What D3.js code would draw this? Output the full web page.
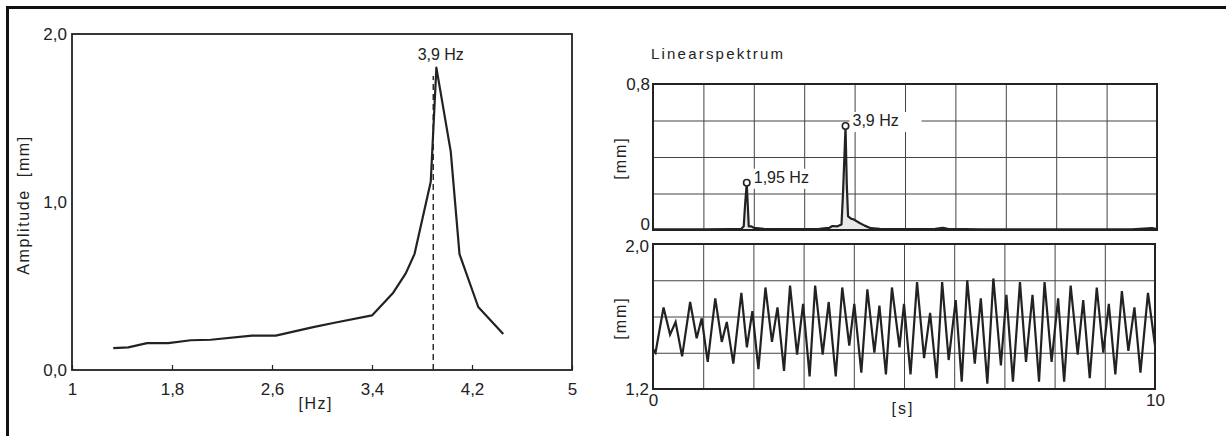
<!DOCTYPE html>
<html><head><meta charset="utf-8">
<script src="https://cdn.jsdelivr.net/npm/d3@7/dist/d3.min.js"></script>
<style>
html,body{margin:0;padding:0;background:#fff;}
svg{display:block;font-family:"Liberation Sans",Arial,Helvetica,sans-serif;}
text{fill:#222;}
</style></head>
<body><svg id="c" width="1226" height="436"></svg>
<script>
// ---- Left chart: resonance curve ----
const respHz  = [1.33,1.45,1.60,1.77,1.95,2.11,2.44,2.63,2.93,3.09,3.40,3.57,3.67,3.74,3.87,3.915,4.03,4.10,4.25,4.45];
const respAmp = [0.13,0.135,0.16,0.16,0.177,0.18,0.205,0.205,0.255,0.28,0.325,0.46,0.575,0.69,1.12,1.80,1.30,0.69,0.375,0.215];
const respPeakHz = 3.89, respPeakAmp = 1.75;
const respXTicks = [1,1.8,2.6,3.4,4.2,5];
const respYTicks = [0,1,2];

// ---- Right top: linear spectrum ----
const specHz = [0,0.5,1.0,1.5,1.75,1.80,1.83,1.86,1.88,1.90,1.95,2.0,2.2,2.6,3.0,3.3,3.5,3.56,3.66,3.74,3.77,3.82,3.845,3.87,3.93,3.98,4.1,4.2,4.32,4.5,5.0,5.6,5.75,5.85,6.5,7.5,8.5,9.5,9.9,10];
const specMm = [0.004,0.004,0.003,0.005,0.006,0.02,0.15,0.255,0.14,0.02,0.02,0.012,0.006,0.005,0.005,0.006,0.012,0.022,0.02,0.03,0.2,0.565,0.25,0.075,0.062,0.058,0.038,0.024,0.01,0.006,0.005,0.006,0.012,0.006,0.004,0.004,0.003,0.004,0.01,0.005];
const specPeaks = [{hz:1.86, mm:0.259, label:"1,95 Hz"},{hz:3.82, mm:0.570, label:"3,9 Hz"}];

// ---- Right bottom: time signal ----
const timeS = [0.0,0.05,0.21,0.34,0.45,0.58,0.74,0.87,0.97,1.09,1.24,1.37,1.47,1.60,1.76,1.87,1.98,2.10,2.24,2.37,2.48,2.61,2.73,2.87,2.99,3.12,3.23,3.38,3.50,3.64,3.77,3.91,4.01,4.15,4.27,4.41,4.51,4.64,4.76,4.91,5.00,5.13,5.26,5.40,5.52,5.65,5.76,5.89,6.03,6.15,6.26,6.41,6.53,6.66,6.78,6.93,7.04,7.17,7.31,7.43,7.56,7.69,7.80,7.94,8.07,8.19,8.32,8.46,8.57,8.70,8.84,8.97,9.08,9.21,9.34,9.47,9.59,9.71,9.86,10.0];
const dispMm = [1.42,1.40,1.65,1.50,1.57,1.38,1.68,1.48,1.59,1.35,1.70,1.46,1.57,1.34,1.73,1.43,1.63,1.31,1.76,1.46,1.65,1.30,1.77,1.39,1.67,1.27,1.77,1.39,1.68,1.27,1.76,1.44,1.67,1.29,1.75,1.40,1.66,1.28,1.76,1.43,1.67,1.28,1.79,1.37,1.62,1.26,1.79,1.36,1.69,1.24,1.80,1.34,1.70,1.23,1.81,1.33,1.72,1.24,1.79,1.35,1.72,1.24,1.79,1.35,1.70,1.24,1.77,1.39,1.69,1.26,1.76,1.40,1.67,1.28,1.74,1.41,1.65,1.29,1.73,1.44];

const loc = d3.formatLocale({decimal:",",thousands:".",grouping:[3],currency:["","€"]});
const f1 = loc.format(".1f");
const ink = "#222";

const svg = d3.select("#c");
svg.append("rect").attr("width",1226).attr("height",436).attr("fill","#fff");
// page frame (left and top edges)
svg.append("path").attr("d","M7.5,436V7.5H1226").attr("fill","none").attr("stroke","#111").attr("stroke-width",3);

// ================= LEFT CHART =================
const xL = d3.scaleLinear().domain([1,5]).range([72,572]);
const yL = d3.scaleLinear().domain([0,2]).range([370,34]);
const gL = svg.append("g");
gL.append("rect").attr("x",xL(1)).attr("y",yL(2)).attr("width",xL(5)-xL(1)).attr("height",yL(0)-yL(2))
  .attr("fill","none").attr("stroke",ink).attr("stroke-width",1.8);

const axL = gL.append("g").attr("transform",`translate(0,${yL(0)})`)
  .call(d3.axisBottom(xL).tickValues(respXTicks).tickSize(-5).tickPadding(13)
    .tickFormat(d => Number.isInteger(d) ? String(d) : f1(d)));
axL.select(".domain").remove();
axL.selectAll("line").attr("stroke",ink).attr("stroke-width",1.2);
axL.selectAll("text").attr("font-size",17).attr("fill",ink).attr("font-family",null);

const ayL = gL.append("g").attr("transform",`translate(${xL(1)},0)`)
  .call(d3.axisLeft(yL).tickValues(respYTicks).tickSize(0).tickPadding(5).tickFormat(f1));
ayL.select(".domain").remove();
ayL.selectAll("text").attr("font-size",17).attr("fill",ink).attr("font-family",null);

gL.append("line").attr("x1",xL(respPeakHz)).attr("x2",xL(respPeakHz)).attr("y1",yL(0)).attr("y2",yL(respPeakAmp))
  .attr("stroke",ink).attr("stroke-width",1.4).attr("stroke-dasharray","6,4");

gL.append("path").datum(respHz.map((h,i)=>[h,respAmp[i]]))
  .attr("d", d3.line().x(d=>xL(d[0])).y(d=>yL(d[1])))
  .attr("fill","none").attr("stroke",ink).attr("stroke-width",2.2).attr("stroke-linejoin","round");

gL.append("text").attr("x",xL(3.95)).attr("y",60).attr("text-anchor","middle").attr("font-size",16).text("3,9 Hz");
gL.append("text").attr("x",xL(2.95)).attr("y",409).attr("text-anchor","middle").attr("font-size",16)
  .attr("letter-spacing",1.5).text("[Hz]");
gL.append("text").attr("transform",`translate(29,205) rotate(-90)`).attr("text-anchor","middle").attr("font-size",16)
  .attr("letter-spacing",1.6).attr("xml:space","preserve").style("white-space","pre").text("Amplitude  [mm]");

// ================= RIGHT TOP: SPECTRUM =================
const xS = d3.scaleLinear().domain([0,10]).range([653,1157]);
const yS = d3.scaleLinear().domain([0,0.8]).range([230,84]);
const gS = svg.append("g");
const gridS = gS.append("g").attr("transform",`translate(0,${yS(0)})`)
  .call(d3.axisBottom(xS).ticks(10).tickSize(-(yS(0)-yS(0.8))).tickFormat(""));
gridS.select(".domain").remove();
gridS.selectAll("line").attr("stroke","#444").attr("stroke-width",1);
const gridSy = gS.append("g").attr("transform",`translate(${xS(0)},0)`)
  .call(d3.axisLeft(yS).tickValues([0.2,0.4,0.6]).tickSize(-(xS(10)-xS(0))).tickFormat(""));
gridSy.select(".domain").remove();
gridSy.selectAll("line").attr("stroke","#444").attr("stroke-width",1);

const specData = specHz.map((h,i)=>[h,specMm[i]]);
gS.append("path").datum(specData)
  .attr("d", d3.area().x(d=>xS(d[0])).y0(yS(0)).y1(d=>yS(d[1])))
  .attr("fill","#e8e8e8");

specPeaks.forEach((p,i)=>{
  const tx = xS(p.hz) + 7, ty = yS(p.mm);
  const w = i===0 ? 62 : 72;
  gS.append("rect").attr("x",tx-3).attr("y",ty-14).attr("width",w).attr("height",20).attr("fill","#fff");
  gS.append("text").attr("x",tx).attr("y",ty).attr("font-size",16).text(p.label);
});

gS.append("rect").attr("x",xS(0)).attr("y",yS(0.8)).attr("width",xS(10)-xS(0)).attr("height",yS(0)-yS(0.8))
  .attr("fill","none").attr("stroke",ink).attr("stroke-width",2);

gS.append("path").datum(specData)
  .attr("d", d3.line().x(d=>xS(d[0])).y(d=>yS(d[1])))
  .attr("fill","none").attr("stroke",ink).attr("stroke-width",2.2).attr("stroke-linejoin","round");

gS.selectAll("circle.pk").data(specPeaks).join("circle").attr("class","pk")
  .attr("cx",d=>xS(d.hz)).attr("cy",d=>yS(d.mm)).attr("r",3.2)
  .attr("fill","#fff").attr("stroke",ink).attr("stroke-width",1.6);

const aySt = gS.append("g").attr("transform",`translate(${xS(0)},0)`)
  .call(d3.axisLeft(yS).tickValues([0,0.8]).tickSize(0).tickPadding(3).tickFormat(d => d===0 ? "0" : f1(d)));
aySt.select(".domain").remove();
aySt.selectAll("text").attr("font-size",17).attr("fill",ink).attr("font-family",null);
aySt.selectAll(".tick").filter(d=>d===0).select("text").attr("dy","-0.05em");

gS.append("text").attr("transform",`translate(626,158) rotate(-90)`).attr("text-anchor","middle")
  .attr("font-size",16).attr("letter-spacing",2).text("[mm]");
gS.append("text").attr("x",651).attr("y",59).attr("font-size",15).attr("letter-spacing",2.2).text("Linearspektrum");

// ================= RIGHT BOTTOM: TIME SIGNAL =================
const xT = d3.scaleLinear().domain([0,10]).range([653,1155]);
const yT = d3.scaleLinear().domain([1.2,2.0]).range([389,244]);
const gT = svg.append("g");
const gridT = gT.append("g").attr("transform",`translate(0,${yT(1.2)})`)
  .call(d3.axisBottom(xT).ticks(10).tickSize(-(yT(1.2)-yT(2.0))).tickFormat(""));
gridT.select(".domain").remove();
gridT.selectAll("line").attr("stroke","#444").attr("stroke-width",1);
const gridTy = gT.append("g").attr("transform",`translate(${xT(0)},0)`)
  .call(d3.axisLeft(yT).tickValues([1.4,1.6,1.8]).tickSize(-(xT(10)-xT(0))).tickFormat(""));
gridTy.select(".domain").remove();
gridTy.selectAll("line").attr("stroke","#444").attr("stroke-width",1);

gT.append("rect").attr("x",xT(0)).attr("y",yT(2.0)).attr("width",xT(10)-xT(0)).attr("height",yT(1.2)-yT(2.0))
  .attr("fill","none").attr("stroke",ink).attr("stroke-width",2);

gT.append("path").datum(timeS.map((t,i)=>[t,dispMm[i]]))
  .attr("d", d3.line().x(d=>xT(d[0])).y(d=>yT(d[1])))
  .attr("fill","none").attr("stroke",ink).attr("stroke-width",2.2).attr("stroke-linejoin","miter");

const ayT = gT.append("g").attr("transform",`translate(${xT(0)},0)`)
  .call(d3.axisLeft(yT).tickValues([1.2,2.0]).tickSize(0).tickPadding(4).tickFormat(f1));
ayT.select(".domain").remove();
ayT.selectAll("text").attr("font-size",17).attr("fill",ink).attr("font-family",null);
ayT.selectAll(".tick").filter(d=>d===2.0).select("text").attr("dy","0.45em");

const axT = gT.append("g").attr("transform",`translate(0,${yT(1.2)})`)
  .call(d3.axisBottom(xT).tickValues([0,10]).tickSize(0).tickPadding(5).tickFormat(d3.format("d")));
axT.select(".domain").remove();
axT.selectAll("text").attr("font-size",17).attr("fill",ink).attr("font-family",null);

gT.append("text").attr("transform",`translate(626,318) rotate(-90)`).attr("text-anchor","middle")
  .attr("font-size",16).attr("letter-spacing",2).text("[mm]");
gT.append("text").attr("x",903).attr("y",414).attr("text-anchor","middle").attr("font-size",16)
  .attr("letter-spacing",2).text("[s]");
</script></body></html>
